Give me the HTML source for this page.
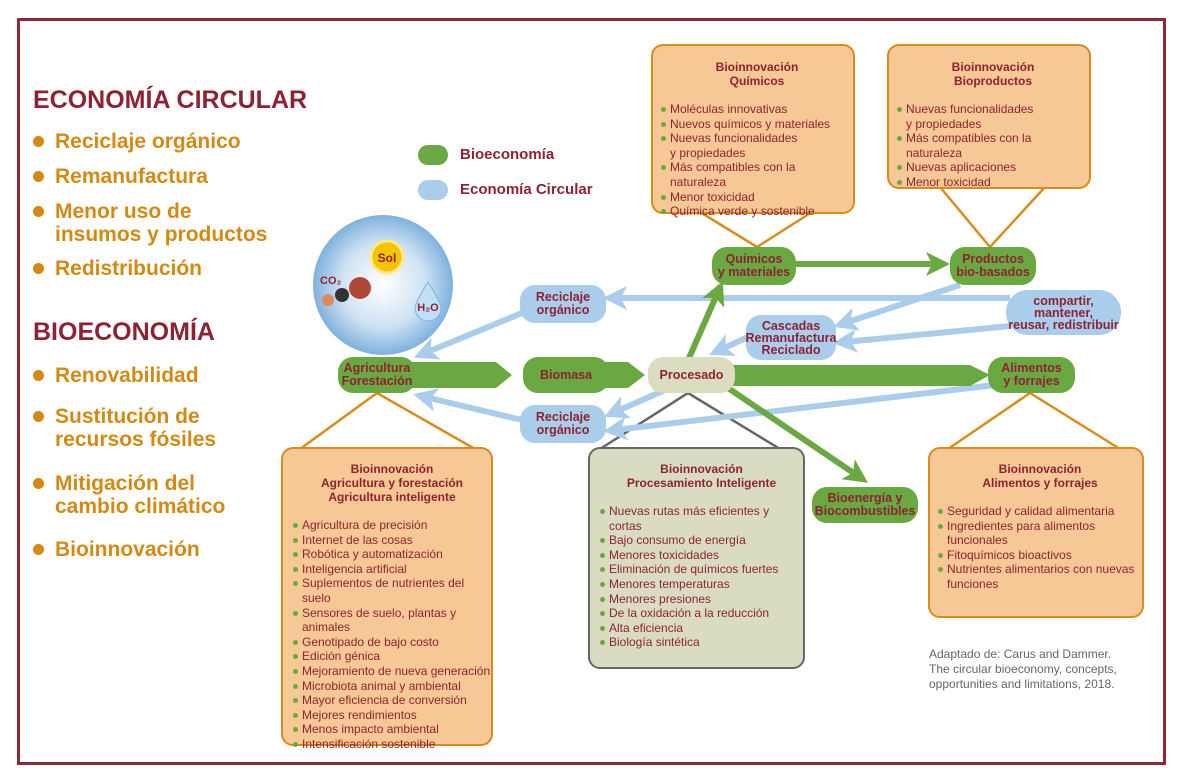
<!DOCTYPE html>
<html><head><meta charset="utf-8"><style>
body{margin:0;width:1183px;height:774px;background:#fff;position:relative;overflow:hidden;font-family:"Liberation Sans Narrow","Liberation Sans",sans-serif;}
.frame{position:absolute;left:17px;top:18px;width:1143px;height:741px;border:3px solid #8e2a38;}
.a{position:absolute;}
.h{color:#8e2234;font-weight:bold;font-size:25px;}
.b{color:#d48a12;font-size:21px;font-weight:bold;line-height:23px;padding-left:22px;position:absolute;left:33px;}
.b:before{content:"";position:absolute;left:0;top:6px;width:11px;height:11px;border-radius:50%;background:#d48a12;}
.n{position:absolute;display:flex;align-items:center;justify-content:center;text-align:center;color:#8e2234;font-weight:bold;font-size:12.5px;line-height:13px;border-radius:15px;}
.g{background:#6aa842;}
.bl{background:#a9cdea;}
.box{position:absolute;border:2.5px solid #d98c1a;background:#f6c895;border-radius:12px;color:#8e2234;font-size:12px;box-sizing:border-box;}
.box .t{text-align:center;font-weight:bold;line-height:14px;}
.box ul{list-style:none;margin:0;padding:0;}
.box li{position:relative;padding-left:9px;line-height:14.6px;}
.box li:before{content:"";position:absolute;left:0;top:5px;width:5px;height:5px;border-radius:50%;background:#6aa842;}
</style></head><body>
<div class="frame"></div>
<div class="a h" style="left:33px;top:86px">ECONOMÍA CIRCULAR</div>
<div class="b" style="top:130px">Reciclaje orgánico</div>
<div class="b" style="top:165px">Remanufactura</div>
<div class="b" style="top:200px">Menor uso de<br>insumos y productos</div>
<div class="b" style="top:257px">Redistribución</div>
<div class="a h" style="left:33px;top:318px">BIOECONOMÍA</div>
<div class="b" style="top:364px">Renovabilidad</div>
<div class="b" style="top:405px">Sustitución de<br>recursos fósiles</div>
<div class="b" style="top:472px">Mitigación del<br>cambio climático</div>
<div class="b" style="top:538px">Bioinnovación</div>

<div class="a" style="left:418px;top:145px;width:30px;height:20px;border-radius:10px;background:#6aa842"></div>
<div class="a" style="left:460px;top:146px;color:#8e2234;font-weight:bold;font-size:15px">Bioeconomía</div>
<div class="a" style="left:418px;top:180px;width:30px;height:20px;border-radius:10px;background:#a9cdea"></div>
<div class="a" style="left:460px;top:181px;color:#8e2234;font-weight:bold;font-size:15px">Economía Circular</div>

<svg class="a" style="left:0;top:0" width="1183" height="774">
<defs>
<radialGradient id="sp" cx="50%" cy="50%" r="50%"><stop offset="0" stop-color="#fff"/><stop offset="0.6" stop-color="#cfe2f3"/><stop offset="1" stop-color="#7fb1de"/></radialGradient>
<marker id="ab" markerWidth="4" markerHeight="4" refX="2" refY="2" orient="auto" markerUnits="strokeWidth"><path d="M0,0L4,2L0,4L1,2z" fill="#a9cdea"/></marker>
<marker id="ag" markerWidth="4" markerHeight="4" refX="2" refY="2" orient="auto" markerUnits="strokeWidth"><path d="M0,0L4,2L0,4L1,2z" fill="#6aa842"/></marker>
</defs>
<circle cx="383" cy="285" r="70" fill="url(#sp)"/>
<circle cx="387" cy="257" r="16" fill="#f5c400" stroke="#fde98a" stroke-width="3"/>
<text x="387" y="262" text-anchor="middle" font-size="12" font-weight="bold" fill="#8e2234" font-family="Liberation Sans">Sol</text>
<circle cx="360" cy="288" r="11" fill="#b0483a"/>
<circle cx="342" cy="295" r="7" fill="#333"/>
<circle cx="328" cy="300" r="6" fill="#e08a5a"/>
<text x="320" y="284" font-size="11" font-weight="bold" fill="#8e2234" font-family="Liberation Sans">CO₂</text>
<path d="M428,282 C418,298 415,305 415,308 a13,13 0 0 0 26,0 C441,305 438,298 428,282z" fill="#bfe0f5" stroke="#7fb1de"/>
<text x="428" y="311" text-anchor="middle" font-size="11" font-weight="bold" fill="#8e2234" font-family="Liberation Sans">H₂O</text>
<!-- triangles -->
<polyline points="300,449 377,393 475,449" fill="none" stroke="#d98c1a" stroke-width="2.5"/>
<polyline points="600,449 688,393 780,449" fill="none" stroke="#666" stroke-width="2.5"/>
<polyline points="948,449 1030,393 1120,449" fill="none" stroke="#d98c1a" stroke-width="2.5"/>
<polyline points="700,212 757,247 812,212" fill="none" stroke="#d98c1a" stroke-width="2.5"/>
<polyline points="940,187 990,247 1045,187" fill="none" stroke="#d98c1a" stroke-width="2.5"/>
<!-- blue lines -->
<g stroke="#a9cdea" stroke-width="6" fill="none" marker-end="url(#ab)">
<line x1="1010" y1="298" x2="615" y2="298"/>
<line x1="522" y1="313" x2="425" y2="353"/>
<line x1="960" y1="285" x2="845" y2="323"/>
<line x1="1010" y1="326" x2="845" y2="342"/>
<line x1="748" y1="337" x2="720" y2="350"/>
<line x1="995" y1="385" x2="615" y2="430"/>
<line x1="665" y1="390" x2="615" y2="412"/>
<line x1="522" y1="420" x2="425" y2="397"/>
</g>
<g stroke="#6aa842" stroke-width="6" fill="none" marker-end="url(#ag)">
<line x1="795" y1="264" x2="938" y2="264"/>
<line x1="689" y1="358" x2="718" y2="292"/>
<line x1="728" y1="388" x2="858" y2="476"/>
</g>
<path d="M410,362 L496,362 L512,375 L496,388 L410,388z" fill="#6aa842"/>
<path d="M605,362 L628,362 L645,375 L628,388 L605,388z" fill="#6aa842"/>
<path d="M730,365 L970,365 L990,375 L970,386 L730,386z" fill="#6aa842"/>
</svg>

<div class="n g" style="left:338px;top:357px;width:78px;height:36px">Agricultura<br>Forestación</div>
<div class="n g" style="left:523px;top:357px;width:86px;height:36px">Biomasa</div>
<div class="n" style="left:648px;top:357px;width:87px;height:36px;background:#dcdcc0">Procesado</div>
<div class="n g" style="left:988px;top:357px;width:87px;height:36px">Alimentos<br>y forrajes</div>
<div class="n g" style="left:712px;top:247px;width:84px;height:38px">Químicos<br>y materiales</div>
<div class="n g" style="left:950px;top:247px;width:86px;height:38px">Productos<br>bio-basados</div>
<div class="n bl" style="left:520px;top:285px;width:86px;height:38px">Reciclaje<br>orgánico</div>
<div class="n bl" style="left:746px;top:315px;width:90px;height:45px;line-height:12px">Cascadas<br>Remanufactura<br>Reciclado</div>
<div class="n bl" style="left:1006px;top:290px;width:115px;height:45px;line-height:12px;border-radius:22px">compartir,<br>mantener,<br>reusar, redistribuir</div>
<div class="n bl" style="left:520px;top:405px;width:86px;height:38px">Reciclaje<br>orgánico</div>
<div class="n g" style="left:812px;top:487px;width:106px;height:36px">Bioenergía y<br>Biocombustibles</div>

<div class="box" style="left:651px;top:44px;width:204px;height:170px;padding:14px 0 0 8px">
<div class="t">Bioinnovación<br>Químicos</div>
<ul style="margin-top:14px"><li>Moléculas innovativas</li><li>Nuevos químicos y materiales</li><li>Nuevas funcionalidades<br>y propiedades</li><li>Más compatibles con la naturaleza</li><li>Menor toxicidad</li><li>Química verde y sostenible</li></ul></div>

<div class="box" style="left:887px;top:44px;width:204px;height:145px;padding:14px 0 0 8px">
<div class="t">Bioinnovación<br>Bioproductos</div>
<ul style="margin-top:14px"><li>Nuevas funcionalidades<br>y propiedades</li><li>Más compatibles con la naturaleza</li><li>Nuevas aplicaciones</li><li>Menor toxicidad</li></ul></div>

<div class="box" style="left:281px;top:447px;width:212px;height:299px;padding:13px 0 0 10px">
<div class="t">Bioinnovación<br>Agricultura y forestación<br>Agricultura inteligente</div>
<ul style="margin-top:14px"><li>Agricultura de precisión</li><li>Internet de las cosas</li><li>Robótica y automatización</li><li>Inteligencia artificial</li><li>Suplementos de nutrientes del suelo</li><li>Sensores de suelo, plantas y animales</li><li>Genotipado de bajo costo</li><li>Edición génica</li><li>Mejoramiento de nueva generación</li><li>Microbiota animal y ambiental</li><li>Mayor eficiencia de conversión</li><li>Mejores rendimientos</li><li>Menos impacto ambiental</li><li>Intensificación sostenible</li></ul></div>

<div class="box" style="left:588px;top:447px;width:217px;height:222px;padding:13px 0 0 10px;border-color:#666;background:#d9dcc0">
<div class="t">Bioinnovación<br>Procesamiento Inteligente</div>
<ul style="margin-top:14px"><li>Nuevas rutas más eficientes y cortas</li><li>Bajo consumo de energía</li><li>Menores toxicidades</li><li>Eliminación de químicos fuertes</li><li>Menores temperaturas</li><li>Menores presiones</li><li>De la oxidación a la reducción</li><li>Alta eficiencia</li><li>Biología sintética</li></ul></div>

<div class="box" style="left:928px;top:447px;width:216px;height:171px;padding:13px 0 0 8px">
<div class="t">Bioinnovación<br>Alimentos y forrajes</div>
<ul style="margin-top:14px"><li>Seguridad y calidad alimentaria</li><li>Ingredientes para alimentos<br>funcionales</li><li>Fitoquímicos bioactivos</li><li>Nutrientes alimentarios con nuevas<br>funciones</li></ul></div>

<div class="a" style="left:929px;top:647px;color:#666;font-size:12px;line-height:15px">Adaptado de: Carus and Dammer.<br>The circular bioeconomy, concepts,<br>opportunities and limitations, 2018.</div>
</body></html>
